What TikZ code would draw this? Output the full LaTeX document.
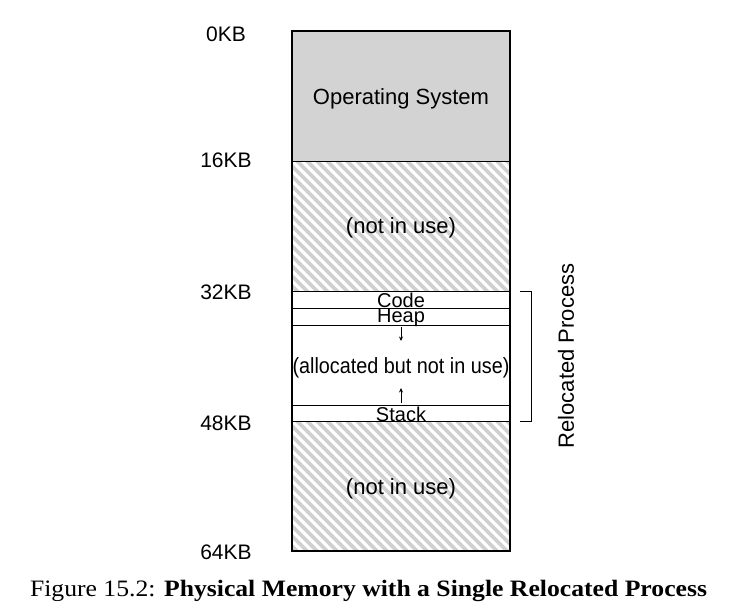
\documentclass[tikz,border=0pt]{standalone}
\usepackage{fontspec}
\setmainfont{Liberation Sans}
\newfontfamily\capfont{Liberation Serif}
\usetikzlibrary{arrows.meta}
\definecolor{osgray}{HTML}{D3D3D3}
\definecolor{hatchgray}{HTML}{D0D0D0}
\tikzset{
  region/.style={draw=black, line width=1pt, minimum width=218pt, inner sep=0pt, outer sep=0pt},
  hatched/.style={region, path picture={
      \foreach \i in {-14,...,22}
        \draw[hatchgray, line width=3.6pt] ([xshift=\i*10pt, yshift=5pt]path picture bounding box.north west) -- ++(200pt,-200pt);
    }},
  kb/.style={font=\fontsize{21}{23}\selectfont, inner sep=0pt},
  lbl/.style={font=\fontsize{22}{24}\selectfont, inner sep=0pt},
  small/.style={font=\fontsize{20}{22}\selectfont, inner sep=0pt},
  growarrow/.style={-{Stealth[length=4.5pt,width=4pt]}, line width=0.8pt},
  bracket/.style={line width=0.8pt}
}
\begin{document}
\begin{tikzpicture}[x=1pt,y=-1pt]
\useasboundingbox (0,0) rectangle (734,616);
% regions
\node[region, fill=osgray, minimum height=130pt] (os) at (401,96) {};
\node[hatched, minimum height=130pt] (free1) at (401,226) {};
\node[region, minimum height=17pt] (code) at (401,299.5) {};
\node[region, minimum height=17pt] (heap) at (401,316.5) {};
\node[region, minimum height=80pt] (mid) at (401,365) {};
\node[region, minimum height=16pt] (stack) at (401,413) {};
\node[hatched, minimum height=130pt] (free2) at (401,486) {};
\draw[line width=1.6pt] (os.north west) rectangle (free2.south east);
% texts
\node[lbl] (ostext) at (401,99.3) {Operating System};
\node[lbl] (nu1) at (401,227.7) {(not in use)};
\node[small] (codetext) at (401,300) {Code};
\node[small] (heaptext) at (401,318) {Heap};
\node[lbl] (alloc) at (401,367.7) {\scalebox{0.9}[1]{(allocated but not in use)}};
\node[small] (stacktext) at (401,414) {Stack};
\node[lbl] (nu2) at (401,488.7) {(not in use)};
% growth arrows
\coordinate (ha) at (401,327);
\coordinate (hb) at (401,341);
\coordinate (sa) at (401,403);
\coordinate (sb) at (401,388);
\draw[growarrow] (ha) -- (hb);
\draw[growarrow] (sa) -- (sb);
% KB labels
\node[kb] (k0) at (226,34) {0KB};
\node[kb] (k16) at (226,160.7) {16KB};
\node[kb] (k32) at (226,292.5) {32KB};
\node[kb] (k48) at (226,423.5) {48KB};
\node[kb] (k64) at (226,552) {64KB};
% bracket
\coordinate (b1) at (520,291);
\coordinate (b2) at (531,291);
\coordinate (b3) at (531,421);
\coordinate (b4) at (520,421);
\draw[bracket] (b1) -- (b2) -- (b3) -- (b4);
\node[lbl, rotate=90] (reloc) at (566,356) {Relocated Process};
% caption
\node[inner sep=0pt, anchor=base] (cap) at (368.5,596) {\resizebox{677pt}{16.3pt}{\capfont\fontsize{22}{24}\selectfont Figure 15.2: \textbf{Physical Memory with a Single Relocated Process}}};
\end{tikzpicture}
\end{document}
